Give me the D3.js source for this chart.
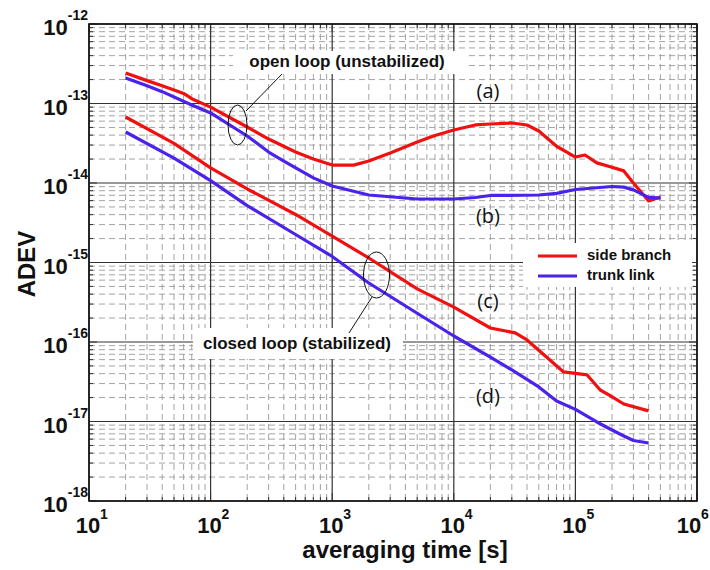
<!DOCTYPE html>
<html>
<head>
<meta charset="utf-8">
<script src="https://cdn.jsdelivr.net/npm/d3@7"></script>
<style>
  html, body { margin: 0; padding: 0; background: #fff; }
  svg { display: block; }
</style>
</head>
<body>
<svg id="chart" width="710" height="570"></svg>
<script>
// ---------------- DATA ----------------
const seriesNames = ["side branch", "trunk link"];

// open loop (unstabilized), side branch (a)
const tauSideOpen = [20, 30, 40, 60, 70, 100, 200, 300, 500, 700, 1000, 1500, 2000, 3000, 5000, 7000, 1e4, 1.5e4, 2e4, 3e4, 4e4, 5e4, 7e4, 1e5, 1.2e5, 1.5e5, 2e5, 2.5e5, 3e5, 4e5, 5e5];
const sideOpen = [2.42e-13, 1.94e-13, 1.67e-13, 1.34e-13, 1.15e-13, 9.0e-14, 5.06e-14, 3.57e-14, 2.45e-14, 2.0e-14, 1.68e-14, 1.68e-14, 1.89e-14, 2.38e-14, 3.28e-14, 3.95e-14, 4.65e-14, 5.37e-14, 5.52e-14, 5.69e-14, 5.37e-14, 4.51e-14, 2.9e-14, 2.12e-14, 2.25e-14, 1.79e-14, 1.58e-14, 1.42e-14, 1.0e-14, 5.94e-15, 6.67e-15];

// open loop (unstabilized), trunk link (b)
const tauTrunkOpen = [20, 30, 40, 70, 100, 200, 300, 400, 700, 1000, 2000, 5000, 1e4, 1.5e4, 2e4, 5e4, 7e4, 1e5, 2e5, 2.5e5, 3e5, 4e5, 5e5];
const trunkOpen = [2.09e-13, 1.67e-13, 1.41e-13, 9.57e-14, 7.6e-14, 3.9e-14, 2.45e-14, 1.89e-14, 1.16e-14, 9.16e-15, 7.06e-15, 6.29e-15, 6.29e-15, 6.57e-15, 6.97e-15, 7.06e-15, 7.4e-15, 8.28e-15, 9.04e-15, 8.88e-15, 8.2e-15, 6.6e-15, 6.47e-15];

// closed loop (stabilized), side branch (c)
const tauSideClosed = [20, 50, 100, 200, 500, 1000, 2000, 5000, 1e4, 2e4, 3.2e4, 4e4, 8e4, 1.25e5, 1.6e5, 1.9e5, 2.5e5, 4e5];
const sideClosed = [6.76e-14, 3.15e-14, 1.55e-14, 8.41e-15, 4.02e-15, 2.15e-15, 1.14e-15, 4.65e-16, 2.75e-16, 1.5e-16, 1.3e-16, 1.06e-16, 4.2e-17, 3.85e-17, 2.49e-17, 2.15e-17, 1.66e-17, 1.36e-17];

// closed loop (stabilized), trunk link (d)
const tauTrunkClosed = [20, 50, 100, 200, 500, 1000, 2000, 5000, 1e4, 2e4, 3e4, 5e4, 7e4, 1e5, 1.5e5, 2e5, 2.5e5, 3e5, 4e5];
const trunkClosed = [4.38e-14, 2.06e-14, 1.07e-14, 5.2e-15, 2.25e-15, 1.19e-15, 5.52e-16, 2.3e-16, 1.19e-16, 6.47e-17, 4.45e-17, 2.72e-17, 1.81e-17, 1.42e-17, 9.86e-18, 7.82e-18, 6.57e-18, 5.77e-18, 5.37e-18];

const xDecades = [1, 2, 3, 4, 5, 6];            // 10^1 ... 10^6
const yDecades = [-12, -13, -14, -15, -16, -17, -18];
const curveLabels = ["(a)", "(b)", "(c)", "(d)"];
const annotationTexts = ["open loop (unstabilized)", "closed loop (stabilized)"];
const xTitle = "averaging time [s]";
const yTitle = "ADEV";

// ---------------- DRAW ----------------
const colors = { side: "#f01010", trunk: "#4a22ec" };
const font = "'Liberation Sans', Arial, Helvetica, sans-serif";
const L = 89, R = 697, T = 24, B = 501;

const svg = d3.select("#chart");
const x = d3.scaleLog().domain([10, 1e6]).range([L, R]);
const y = d3.scaleLog().domain([1e-18, 1e-12]).range([B, T]);

const isMajor = v => Math.abs(Math.log10(v) - Math.round(Math.log10(v))) < 1e-9;
const xt = x.ticks();
const yt = y.ticks();

const grid = svg.append("g");
// minor grid (dashed)
grid.selectAll(".vx").data(xt.filter(v => !isMajor(v))).join("line")
  .attr("x1", d => x(d)).attr("x2", d => x(d)).attr("y1", T).attr("y2", B)
  .attr("stroke", "#9a9a9a").attr("stroke-width", 0.9).attr("stroke-dasharray", "6,4");
grid.selectAll(".hy").data(yt.filter(v => !isMajor(v))).join("line")
  .attr("y1", d => y(d)).attr("y2", d => y(d)).attr("x1", L).attr("x2", R)
  .attr("stroke", "#9a9a9a").attr("stroke-width", 0.9).attr("stroke-dasharray", "6,4");
// major grid (solid)
grid.selectAll(".mx").data(xt.filter(isMajor)).join("line")
  .attr("x1", d => x(d)).attr("x2", d => x(d)).attr("y1", T).attr("y2", B)
  .attr("stroke", "#333").attr("stroke-width", 1.2);
grid.selectAll(".my").data(yt.filter(isMajor)).join("line")
  .attr("y1", d => y(d)).attr("y2", d => y(d)).attr("x1", L).attr("x2", R)
  .attr("stroke", "#333").attr("stroke-width", 1.2);

// inner ticks on frame
const tk = svg.append("g").attr("stroke", "#333").attr("stroke-width", 1);
xt.forEach(v => {
  const len = isMajor(v) ? 8 : 4;
  tk.append("line").attr("x1", x(v)).attr("x2", x(v)).attr("y1", B).attr("y2", B - len);
  tk.append("line").attr("x1", x(v)).attr("x2", x(v)).attr("y1", T).attr("y2", T + len);
});
yt.forEach(v => {
  const len = isMajor(v) ? 8 : 4;
  tk.append("line").attr("y1", y(v)).attr("y2", y(v)).attr("x1", L).attr("x2", L + len);
  tk.append("line").attr("y1", y(v)).attr("y2", y(v)).attr("x1", R).attr("x2", R - len);
});

// white annotation boxes covering grid
svg.append("rect").attr("x", 233).attr("y", 51).attr("width", 232).attr("height", 23).attr("fill", "#fff");
svg.append("rect").attr("x", 193).attr("y", 328).attr("width", 210).attr("height", 31).attr("fill", "#fff");
svg.append("rect").attr("x", 523).attr("y", 243).attr("width", 169).attr("height", 44).attr("fill", "#fff");

// curves
const line = d3.line().x(d => x(d[0])).y(d => y(d[1]));
const curves = [
  [tauSideOpen, sideOpen, colors.side],
  [tauTrunkOpen, trunkOpen, colors.trunk],
  [tauSideClosed, sideClosed, colors.side],
  [tauTrunkClosed, trunkClosed, colors.trunk]
];
curves.forEach(([t, v, c]) => {
  svg.append("path").datum(t.map((d, i) => [d, v[i]]))
    .attr("d", line).attr("fill", "none").attr("stroke", c)
    .attr("stroke-width", 3.2).attr("stroke-linejoin", "round");
});

// frame
svg.append("rect").attr("x", L).attr("y", T).attr("width", R - L).attr("height", B - T)
  .attr("fill", "none").attr("stroke", "#111").attr("stroke-width", 1.6);

// y tick labels
yDecades.forEach(e => {
  const yy = y(Math.pow(10, e));
  const t = svg.append("text").attr("x", 88).attr("y", yy + 11)
    .attr("text-anchor", "end").attr("font-family", font).attr("font-weight", "bold").attr("fill", "#111");
  t.append("tspan").attr("font-size", 22).text("10");
  t.append("tspan").attr("font-size", 14).attr("dy", -15).text(String(e));
});
// x tick labels (last one nudged left so it stays inside the page)
xDecades.forEach((e, i) => {
  const shift = i === xDecades.length - 1 ? -7 : 0;
  const xx = x(Math.pow(10, e)) + shift;
  svg.append("text").attr("x", xx - 1).attr("y", 533).attr("text-anchor", "middle")
    .attr("font-family", font).attr("font-weight", "bold").attr("font-size", 22).attr("fill", "#111").text("10");
  svg.append("text").attr("x", xx + 11).attr("y", 519).attr("text-anchor", "start")
    .attr("font-family", font).attr("font-weight", "bold").attr("font-size", 14).attr("fill", "#111").text(String(e));
});

// axis titles
svg.append("text").attr("x", 405).attr("y", 558).attr("text-anchor", "middle")
  .attr("font-family", font).attr("font-weight", "bold").attr("font-size", 24).attr("fill", "#111").text(xTitle);
svg.append("text").attr("transform", "translate(35,264) rotate(-90)").attr("text-anchor", "middle")
  .attr("font-family", font).attr("font-weight", "bold").attr("font-size", 24).attr("fill", "#111").text(yTitle);

// annotations
svg.append("text").attr("x", 347).attr("y", 67).attr("text-anchor", "middle")
  .attr("font-family", font).attr("font-weight", "bold").attr("font-size", 17).attr("fill", "#111").text(annotationTexts[0]);
svg.append("text").attr("x", 297).attr("y", 349).attr("text-anchor", "middle")
  .attr("font-family", font).attr("font-weight", "bold").attr("font-size", 17).attr("fill", "#111").text(annotationTexts[1]);

svg.append("ellipse").attr("cx", 237.5).attr("cy", 125).attr("rx", 9.5).attr("ry", 20)
  .attr("fill", "none").attr("stroke", "#111").attr("stroke-width", 1);
svg.append("line").attr("x1", 246).attr("y1", 111).attr("x2", 282).attr("y2", 74)
  .attr("stroke", "#111").attr("stroke-width", 1);
svg.append("ellipse").attr("cx", 376.5).attr("cy", 275).attr("rx", 13).attr("ry", 23)
  .attr("fill", "none").attr("stroke", "#111").attr("stroke-width", 1);
svg.append("line").attr("x1", 372).attr("y1", 297).attr("x2", 349).attr("y2", 333)
  .attr("stroke", "#111").attr("stroke-width", 1);

// curve labels
const labelPos = [[488, 98], [488, 223], [488, 308], [488, 403]];
curveLabels.forEach((s, i) => {
  svg.append("text").attr("x", labelPos[i][0]).attr("y", labelPos[i][1]).attr("text-anchor", "middle")
    .attr("font-family", "'Open Sans', 'Liberation Sans', sans-serif").attr("font-size", 20).attr("fill", "#111").text(s);
});

// legend
const lg = svg.append("g");
[[colors.side, 256, 260], [colors.trunk, 276, 280]].forEach(([c, ly, ty], i) => {
  lg.append("line").attr("x1", 538).attr("x2", 577).attr("y1", ly).attr("y2", ly)
    .attr("stroke", c).attr("stroke-width", 3.2);
  lg.append("text").attr("x", 587).attr("y", ty).attr("font-family", font).attr("font-weight", "bold")
    .attr("font-size", 15).attr("fill", "#111").text(seriesNames[i]);
});
</script>
</body>
</html>
